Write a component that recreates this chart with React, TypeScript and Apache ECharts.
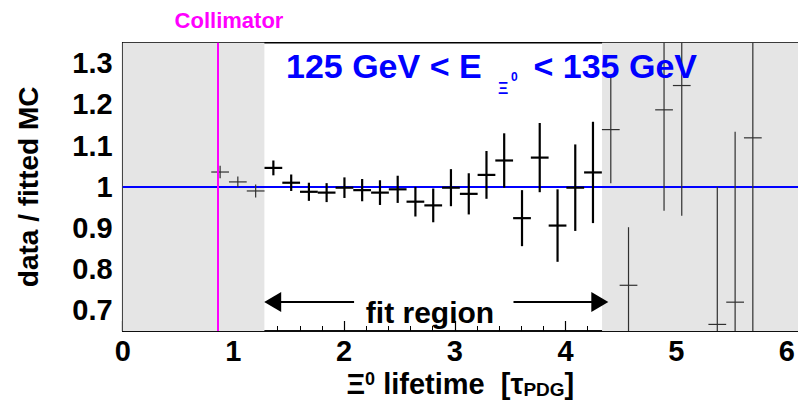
import React, { useEffect, useRef } from "react";
import * as echarts from "echarts";

// ---- data ----
const binCenters = [
  0.88, 1.04, 1.201, 1.361, 1.522, 1.682, 1.842, 2.003, 2.163, 2.324, 2.484,
  2.644, 2.805, 2.965, 3.126, 3.286, 3.446, 3.607, 3.767, 3.928, 4.088, 4.248,
  4.409, 4.569, 4.73, 4.89, 5.05, 5.211, 5.371, 5.532, 5.692,
];
const ratioValues: (number | null)[] = [
  1.036, 1.012, 0.99, 1.046, 1.01, 0.988, 0.986, 0.998, 0.992, 0.986, 0.994,
  0.964, 0.955, 0.998, 0.983, 1.029, 1.064, 0.924, 1.071, 0.906, 0.998, 1.035,
  1.139, 0.761, null, 1.187, 1.246, null, 0.666, 0.72, 1.119,
];
const ratioErrors: (number | null)[] = [
  0.015, 0.013, 0.016, 0.018, 0.02, 0.022, 0.023, 0.025, 0.027, 0.03, 0.033,
  0.036, 0.041, 0.045, 0.05, 0.058, 0.066, 0.068, 0.084, 0.088, 0.105, 0.123,
  0.13, 0.141, null, 0.245, 0.316, null, 0.334, 0.414, 0.5,
];
const binWidth = 0.1604;
const fitRegion = [1.28, 4.33];
const collimatorX = 0.86;
const referenceLevel = 1.0;
const xRange = [0, 6.1];
const yRange = [0.65, 1.35];
const yMajorTicks = [0.7, 0.8, 0.9, 1.0, 1.1, 1.2, 1.3];
const yMinorTicks = [
  0.66, 0.68, 0.72, 0.74, 0.76, 0.78, 0.82, 0.84, 0.86, 0.88, 0.92, 0.94, 0.96,
  0.98, 1.02, 1.04, 1.06, 1.08, 1.12, 1.14, 1.16, 1.18, 1.22, 1.24, 1.26, 1.28,
  1.32, 1.34,
];
const arrowLevel = 0.7206;
const arrowInnerEnds = [2.09, 3.53];
const arrowHeadInsets = [0.075, 0.02]; // arrow-head placement, in x units

const FONT = "'Liberation Sans', Arial, Helvetica, sans-serif";

export default function App() {
  const ref = useRef<HTMLDivElement>(null);

  useEffect(() => {
    const chart = echarts.init(ref.current!, null, { renderer: "svg" });

    const points = binCenters
      .map((x, i) => [x, ratioValues[i], ratioErrors[i]])
      .filter((d) => d[1] != null);
    const grayRegions = [
      [xRange[0], fitRegion[0]],
      [fitRegion[1], xRange[1]],
    ];
    const arrowStyle = { color: "#000", width: 2.2, type: "solid" };

    const option: any = {
      animation: false,
      backgroundColor: "#ffffff",
      grid: {
        left: 122.7,
        top: 42.7,
        width: 678.9,
        height: 288.3,
        show: true,
        borderColor: "#000",
        borderWidth: 1.5,
        backgroundColor: "transparent",
      },
      xAxis: {
        type: "value",
        min: xRange[0],
        max: xRange[1],
        interval: 1,
        axisLine: { show: true, lineStyle: { color: "#000", width: 1.5 } },
        axisTick: { show: true, inside: true, length: 10, lineStyle: { color: "#000", width: 1.2 } },
        minorTick: { show: true, splitNumber: 5, length: 5, lineStyle: { color: "#000", width: 1 } },
        splitLine: { show: false },
        minorSplitLine: { show: false },
        axisLabel: {
          color: "#000",
          fontFamily: FONT,
          fontWeight: "bold",
          fontSize: 29,
          margin: 5,
          formatter: (v: number) => String(v),
        },
        name: "{b|Ξ}{sup|0}{b| lifetime  [τ}{sub|PDG}{b|]}",
        nameLocation: "middle",
        nameGap: 36,
        nameTextStyle: {
          rich: {
            b: { fontFamily: FONT, fontWeight: "bold", fontSize: 29, color: "#000" },
            sup: { fontFamily: FONT, fontWeight: "bold", fontSize: 18, color: "#000", verticalAlign: "top" },
            sub: { fontFamily: FONT, fontWeight: "bold", fontSize: 19, color: "#000", verticalAlign: "bottom" },
          },
        },
      },
      yAxis: [
        {
          type: "value",
          min: yRange[0],
          max: yRange[1],
          position: "left",
          axisLine: { show: true, lineStyle: { color: "#000", width: 1.5 } },
          axisTick: {
            show: true,
            inside: true,
            length: 11,
            customValues: yMajorTicks,
            lineStyle: { color: "#000", width: 1.2 },
          },
          axisLabel: {
            color: "#000",
            fontFamily: FONT,
            fontWeight: "bold",
            fontSize: 29,
            margin: 10,
            customValues: yMajorTicks,
            formatter: (v: number) => String(Math.round(v * 10) / 10),
          },
          splitLine: { show: false },
          name: "data / fitted MC",
          nameLocation: "middle",
          nameRotate: 90,
          nameGap: 80,
          nameTextStyle: { fontFamily: FONT, fontWeight: "bold", fontSize: 28, color: "#000" },
        },
        {
          type: "value",
          min: yRange[0],
          max: yRange[1],
          position: "left",
          offset: 0,
          axisLine: { show: false },
          axisTick: {
            show: true,
            inside: true,
            length: 6,
            customValues: yMinorTicks,
            lineStyle: { color: "#000", width: 1 },
          },
          axisLabel: { show: false },
          splitLine: { show: false },
        },
      ],
      series: [
        {
          name: "excluded regions",
          type: "custom",
          z: 1,
          silent: true,
          data: grayRegions,
          renderItem: (params: any, api: any) => {
            const cs = params.coordSys;
            const a = api.coord([api.value(0), yRange[1]]);
            const b = api.coord([api.value(1), yRange[0]]);
            const x1 = Math.max(cs.x, a[0]);
            const x2 = Math.min(cs.x + cs.width, b[0]);
            return {
              type: "rect",
              shape: { x: x1, y: cs.y, width: x2 - x1, height: cs.height },
              style: { fill: "#e5e5e5" },
            };
          },
          markLine: {
            z: 2,
            silent: true,
            symbol: ["none", "none"],
            label: { show: false },
            lineStyle: { color: "#0000ff", width: 2, type: "solid" },
            data: [{ yAxis: referenceLevel }],
          },
        },
        {
          name: "data / fitted MC",
          type: "custom",
          z: 3,
          silent: true,
          data: points,
          renderItem: (params: any, api: any) => {
            const cs = params.coordSys;
            const x = api.value(0);
            const y = api.value(1);
            const e = api.value(2);
            const clampY = (py: number) => Math.max(cs.y, Math.min(cs.y + cs.height, py));
            const c = api.coord([x, y]);
            const top = api.coord([x, y + e]);
            const bot = api.coord([x, y - e]);
            const l = api.coord([x - binWidth / 2, y]);
            const r = api.coord([x + binWidth / 2, y]);
            const inFit = x > fitRegion[0] && x < fitRegion[1];
            const style = {
              stroke: inFit ? "#000" : "#303030",
              lineWidth: inFit ? 2.2 : 1.2,
            };
            const children: any[] = [
              {
                type: "line",
                shape: { x1: c[0], y1: clampY(top[1]), x2: c[0], y2: clampY(bot[1]) },
                style,
              },
            ];
            if (c[1] >= cs.y && c[1] <= cs.y + cs.height) {
              children.push({
                type: "line",
                shape: { x1: l[0], y1: c[1], x2: r[0], y2: c[1] },
                style,
              });
            }
            return { type: "group", children };
          },
          markLine: {
            z: 4,
            silent: true,
            label: { show: false },
            symbol: ["none", "none"],
            data: [
              {
                xAxis: collimatorX,
                lineStyle: { color: "#ff00ff", width: 2, type: "solid" },
              },
              [
                {
                  coord: [fitRegion[0] + arrowHeadInsets[0], arrowLevel],
                  symbol: "triangle",
                  symbolSize: [20, 17],
                  lineStyle: arrowStyle,
                },
                { coord: [arrowInnerEnds[0], arrowLevel], symbol: "none" },
              ],
              [
                {
                  coord: [arrowInnerEnds[1], arrowLevel],
                  symbol: "none",
                  lineStyle: arrowStyle,
                },
                {
                  coord: [fitRegion[1] - arrowHeadInsets[1], arrowLevel],
                  symbol: "triangle",
                  symbolSize: [20, 17],
                },
              ],
            ],
          },
        },
      ],
      graphic: [
        {
          type: "text",
          x: 229,
          y: 20,
          z: 10,
          style: {
            text: "Collimator",
            font: `bold 22px ${FONT}`,
            fill: "#ff00ff",
            align: "center",
            verticalAlign: "middle",
          },
        },
        {
          type: "text",
          x: 286,
          y: 66,
          z: 10,
          style: {
            text: "125 GeV < E",
            font: `bold 34px ${FONT}`,
            fill: "#0000ff",
            align: "left",
            verticalAlign: "middle",
          },
        },
        {
          type: "text",
          x: 498,
          y: 88,
          z: 10,
          style: {
            text: "Ξ",
            font: `bold 16px ${FONT}`,
            fill: "#0000ff",
            align: "left",
            verticalAlign: "middle",
          },
        },
        {
          type: "text",
          x: 511,
          y: 77,
          z: 10,
          style: {
            text: "0",
            font: `bold 12px ${FONT}`,
            fill: "#0000ff",
            align: "left",
            verticalAlign: "middle",
          },
        },
        {
          type: "text",
          x: 697,
          y: 66,
          z: 10,
          style: {
            text: "< 135 GeV",
            font: `bold 34px ${FONT}`,
            fill: "#0000ff",
            align: "right",
            verticalAlign: "middle",
          },
        },
        {
          type: "text",
          x: 430,
          y: 312,
          z: 10,
          style: {
            text: "fit region",
            font: `bold 30px ${FONT}`,
            fill: "#000",
            align: "center",
            verticalAlign: "middle",
          },
        },
      ],
    };

    chart.setOption(option);
    return () => chart.dispose();
  }, []);

  return (
    <div
      ref={ref}
      style={{ position: "fixed", left: 0, top: 0, width: 798, height: 407 }}
    />
  );
}
